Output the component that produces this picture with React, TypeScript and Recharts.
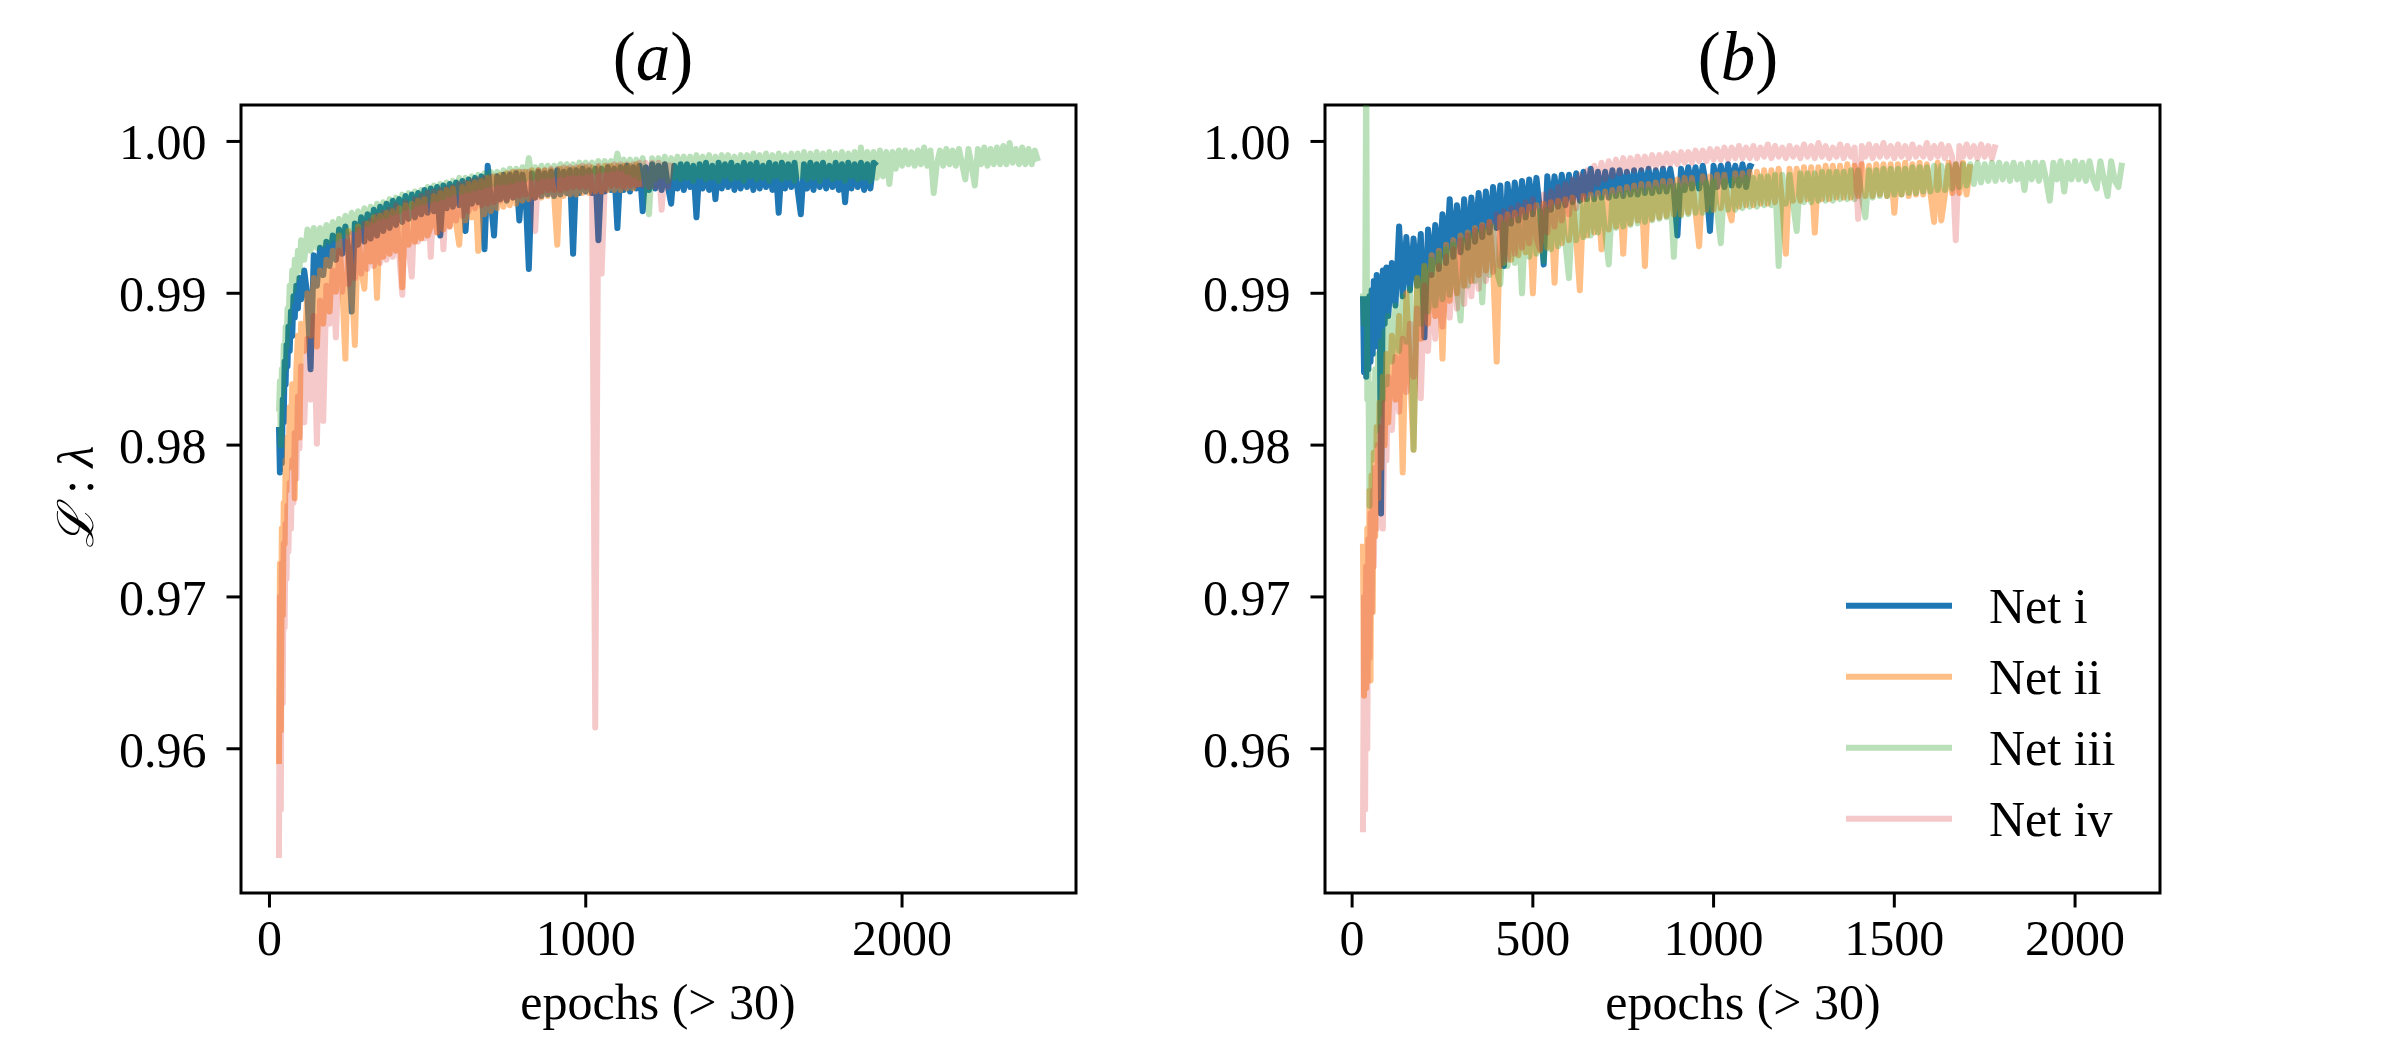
import { Legend, Line, LineChart, ReferenceArea, XAxis, YAxis } from 'recharts';

const FONT = "'Liberation Serif', 'Times New Roman', serif";

// shared y range of both panels
const yDomain: [number, number] = [0.9505, 1.0024];
const yTicks = [0.96, 0.97, 0.98, 0.99, 1.0];

const xDomainLeft: [number, number] = [-90, 2550];
const xTicksLeft = [0, 1000, 2000];
const xDomainRight: [number, number] = [-75, 2235];
const xTicksRight = [0, 500, 1000, 1500, 2000];

const netNames = ['Net i', 'Net ii', 'Net iii', 'Net iv'];
const netColors = ['#1f77b4', '#ff7f0e', '#2ca02c', '#d62728'];
const netOpacity = [1, 0.5, 0.33, 0.25];

// sampled epochs, every series uses the first N of them
const epochs = [
  30, 33, 36, 39, 42, 45, 48, 51, 54, 57, 60, 64, 68, 72, 76, 80, 85, 90, 95, 100,
  110, 120, 130, 140, 150, 160, 170, 180, 190, 200,
  210, 220, 230, 240, 250, 260, 270, 280, 290, 300,
  310, 320, 330, 340, 350, 360, 370, 380, 390, 400,
  410, 420, 430, 440, 450, 460, 470, 480, 490, 500,
  510, 520, 530, 540, 550, 560, 570, 580, 590, 600,
  610, 620, 630, 640, 650, 660, 670, 680, 690, 700,
  710, 720, 730, 740, 750, 760, 770, 780, 790, 800,
  810, 820, 830, 840, 850, 860, 870, 880, 890, 900,
  910, 920, 930, 940, 950, 960, 970, 980, 990, 1000,
  1010, 1020, 1030, 1040, 1050, 1060, 1070, 1080, 1090, 1100,
  1110, 1120, 1130, 1140, 1150, 1160, 1170, 1180, 1190, 1200,
  1210, 1220, 1230, 1240, 1250, 1260, 1270, 1280, 1290, 1300,
  1310, 1320, 1330, 1340, 1350, 1360, 1370, 1380, 1390, 1400,
  1410, 1420, 1430, 1440, 1450, 1460, 1470, 1480, 1490, 1500,
  1510, 1520, 1530, 1540, 1550, 1560, 1570, 1580, 1590, 1600,
  1610, 1620, 1630, 1640, 1650, 1660, 1670, 1680, 1690, 1700,
  1710, 1720, 1730, 1740, 1750, 1760, 1770, 1780, 1790, 1800,
  1810, 1820, 1830, 1840, 1850, 1860, 1870, 1880, 1890, 1900,
  1910, 1920, 1930, 1940, 1950, 1960, 1970, 1980, 1990, 2000,
  2010, 2020, 2030, 2040, 2050, 2060, 2070, 2080, 2090, 2100,
  2110, 2120, 2130, 2140, 2150, 2160, 2170, 2180, 2190, 2200,
  2210, 2220, 2230, 2240, 2250, 2260, 2270, 2280, 2290, 2300,
  2310, 2320, 2330, 2340, 2350, 2360, 2370, 2380, 2390, 2400,
  2410, 2420, 2430,
];

// ---- panel (a) ----
const netIa = [
  .9812, .9782, .9808, .9788, .983, .9815, .9855, .984, .9866, .9852, .9878, .9862, .9888, .9872, .9898, .9884, .9905, .989, .991, .9896,
  .9915, .9898, .985, .9925, .9905, .993, .9912, .9934, .9918, .9938,
  .9922, .9942, .9926, .9944, .9928, .9888, .9946, .9932, .995, .9934,
  .9952, .9936, .9955, .9938, .9957, .9941, .9959, .9943, .9961, .9945,
  .9962, .9947, .9964, .9949, .9965, .995, .9966, .9952, .9968, .9953,
  .9969, .9954, .997, .9938, .9971, .9956, .9972, .9957, .9973, .9958,
  .9974, .9941, .9975, .9959, .9976, .996, .9977, .9929, .9984, .9961,
  .9938, .9977, .9962, .9978, .9961, .9978, .9963, .9979, .9948, .9978,
  .9964, .9916, .9979, .9963, .998, .9964, .9979, .9965, .998, .9964,
  .9981, .9965, .998, .9966, .9981, .9926, .9981, .9966, .9982, .9967,
  .9981, .9966, .9982, .9935, .9982, .9967, .9983, .9968, .9982, .9943,
  .9983, .9968, .9984, .9967, .9983, .9969, .9984, .9954, .9983, .9968,
  .9985, .9969, .9984, .9968, .9985, .997, .9959, .9984, .9969, .9985,
  .9968, .9985, .997, .9984, .995, .9985, .9969, .9986, .9968, .9984,
  .9962, .9986, .9969, .9985, .997, .9986, .9968, .9984, .9969, .9986,
  .997, .9985, .9968, .9986, .9969, .9984, .997, .9986, .9968, .9985,
  .9953, .9986, .9969, .9985, .997, .9986, .9968, .9952, .9985, .9969,
  .9986, .9968, .9985, .997, .9986, .9969, .9984, .997, .9986, .9968,
  .9985, .996, .9986, .9969, .9985, .997, .9986, .9968, .9985, .9969,
  .9986, .9984,
];

const netIIa = [
  .959, .9722, .9612, .9745, .9688, .9762, .9735, .979, .977, .9805, .9785, .9825, .98, .984, .9815, .9765, .985, .9872, .9805, .988,
  .9862, .99, .9872, .991, .9865, .9915, .988, .9922, .9888, .9928,
  .9901, .9938, .9906, .9857, .9941, .9911, .9866, .9944, .9916, .9903,
  .9946, .9921, .995, .9897, .9951, .9924, .9953, .9926, .9954, .9928,
  .9956, .9904, .9958, .9932, .9959, .9934, .9961, .9936, .9962, .9938,
  .9944, .9964, .994, .9966, .9942, .9968, .9944, .9969, .9946, .9932,
  .997, .9948, .9972, .995, .9973, .9928, .9974, .9952, .9976, .9954,
  .9977, .9956, .9978, .9957, .9979, .9958, .998, .9959, .998, .9961,
  .998, .9962, .9981, .9963, .9981, .9963, .9981, .9964, .9981, .9964,
  .9932, .9982, .9964, .9982, .9965, .9982, .9965, .9983, .9966, .9983,
  .9966, .9983, .9967, .9983, .9967, .9984, .9968, .9984, .9968, .9984,
  .9968, .9984, .9969, .9984, .9969, .9985, .997,
];

const netIIIa = [
  .9822, .9842, .98, .985, .9835, .9866, .985, .9878, .9865, .989, .988, .9905, .9895, .9915, .9902, .9922, .991, .9928, .9915, .9935,
  .9922, .9942, .9928, .9943, .993, .9943, .9932, .9945, .9934, .9947,
  .9936, .9949, .9938, .9951, .994, .9953, .9942, .9954, .9944, .9956,
  .9946, .9957, .9948, .9959, .995, .996, .9951, .9962, .9953, .9963,
  .9954, .9965, .9956, .9966, .9957, .9967, .9959, .9968, .996, .997,
  .9961, .9971, .9962, .9972, .9963, .9973, .9965, .9974, .9966, .9976,
  .9967, .9976, .9968, .9977, .9969, .9978, .997, .9979, .9971, .998,
  .9972, .998, .9973, .9981, .9973, .9982, .9974, .9982, .9975, .9983,
  .9975, .9989, .9976, .9983, .9976, .9984, .9977, .9984, .9977, .9984,
  .9978, .9985, .9978, .9985, .9979, .9985, .9979, .9986, .9979, .9986,
  .998, .9986, .998, .9987, .9981, .9987, .9981, .9987, .9982, .9992,
  .9982, .9988, .998, .9988, .9978, .9988, .9976, .9989, .9975, .9952,
  .9989, .9975, .9989, .9977, .999, .9974, .9989, .9976, .999, .9975,
  .999, .9976, .999, .9974, .9991, .9977, .999, .9975, .9991, .9976,
  .999, .9974, .9991, .9977, .9991, .9975, .999, .9976, .9991, .9974,
  .9991, .9977, .9992, .9975, .9991, .9976, .9992, .9974, .9991, .9977,
  .9992, .9975, .9991, .9976, .9992, .9974, .9992, .9977, .9993, .9975,
  .9992, .9976, .9993, .9974, .9992, .9977, .9993, .9975, .9992, .9976,
  .9993, .9974, .9992, .9977, .9993, .9975, .9996, .9976, .9993, .9974,
  .9993, .9976, .9994, .9977, .9993, .9972, .9993, .9982, .9994, .9984,
  .9994, .9985, .9993, .9984, .9994, .9985, .9996, .9984, .9994, .9966,
  .9985, .9994, .9984, .9995, .9985, .9994, .9984, .9995, .9985, .9975,
  .9995, .9984, .9971, .9995, .9985, .9996, .9984, .9995, .9985, .9996,
  .9985, .9997, .9985, .9999, .9986, .9995, .9985, .9996, .9985, .9995,
  .9985, .9994, .9987,
];

const netIVa = [
  .9528, .97, .956, .9722, .963, .9735, .968, .9748, .9712, .976, .973, .9775, .9745, .979, .9762, .9808, .9778, .9832, .9798, .9852,
  .9815, .987, .983, .9885, .9801, .9895, .9816, .9905, .988, .9915,
  .9871, .9928, .9901, .9934, .9906, .9939, .991, .9942, .9913, .9946,
  .9916, .9948, .9918, .9951, .992, .9953, .9922, .9955, .9924, .9958,
  .9926, .9899, .996, .993, .9911, .9962, .9934, .9964, .9936, .9966,
  .9924, .9967, .994, .9968, .9929, .9969, .9944, .997, .9948, .9972,
  .9951, .9973, .9954, .9974, .9956, .9975, .9958, .9976, .9959, .9977,
  .996, .9977, .9961, .9978, .9962, .9979, .9963, .998, .9964, .998,
  .9965, .998, .9966, .9941, .9981, .9967, .9981, .9968, .9982, .9968,
  .9982, .9968, .9983, .9969, .9983, .997, .9983, .997, .9984, .997,
  .9984, .997, .9614, .9984, .9913, .997, .9984, .9971, .9985, .9971,
  .9985, .997, .9985, .9971, .9985, .9971, .9986, .9971, .9986, .997,
  .9986, .997, .9986, .9955, .9985, .997, .9986,
];

// ---- panel (b) ----
const netIb = [
  .9898, .9848, .9896, .9845, .9893, .985, .9898, .9855, .9902, .986, .9908, .9865, .9912, .987, .991, .9755, .9915, .988, .9917, .9885,
  .992, .9892, .9944, .9898, .9937, .9902, .9936, .9905, .9939, .9871,
  .9942, .9912, .9945, .9916, .9952, .992, .9962, .9924, .9958, .9927,
  .9962, .993, .9963, .9934, .9966, .9937, .9967, .994, .997, .9943,
  .9971, .9918, .9972, .9946, .9973, .9948, .9974, .995, .9975, .9952,
  .9976, .9954, .9919, .9977, .9955, .9977, .9957, .9978, .9958, .9978,
  .996, .9979, .9961, .998, .9962, .9982, .9962, .998, .9963, .998,
  .9963, .9981, .9964, .9981, .9964, .998, .9965, .9981, .9965, .9981,
  .9966, .9982, .9966, .9981, .9967, .9982, .9967, .9982, .9968, .9938,
  .9982, .9968, .9983, .9969, .9983, .9969, .9984, .997, .9941, .9984,
  .997, .9984, .997, .9985, .9971, .9984, .9971, .9985, .997, .9984,
  .9983,
];

const netIIb = [
  .9735, .9635, .97, .964, .9745, .966, .977, .9645, .978, .969, .9795, .974, .9812, .9765, .9828, .9785, .9845, .98, .986, .9815,
  .9872, .983, .9885, .9782, .99, .985, .9797, .991, .987, .9918,
  .988, .9925, .9885, .9928, .9857, .9932, .9895, .9935, .99, .9938,
  .9905, .994, .9908, .9943, .9912, .9945, .9915, .9947, .9918, .9855,
  .995, .992, .9952, .9922, .9953, .9925, .9955, .9927, .9957, .99,
  .9958, .9928, .9959, .993, .996, .9907, .9961, .9933, .9962, .9935,
  .9963, .9936, .9902, .9964, .9938, .9965, .994, .9966, .9929, .9967,
  .9942, .9968, .9944, .9969, .9926, .997, .9946, .9971, .9948, .9972,
  .9918, .9972, .9949, .9973, .995, .9974, .9951, .9974, .9952, .9975,
  .9952, .9976, .9953, .9976, .9954, .9931, .9977, .9955, .9977, .9955,
  .9978, .9956, .9978, .9957, .9948, .9979, .9957, .9979, .9958, .998,
  .9958, .998, .9959, .9981, .9959, .9981, .996, .9982, .996, .9926,
  .9982, .9961, .9982, .9961, .9983, .9962, .9983, .994, .9983, .9962,
  .9984, .9962, .9984, .9963, .9984, .9963, .9985, .9963, .9984, .9964,
  .9985, .9964, .9984, .9964, .9985, .9965, .9985, .9964, .9985, .9953,
  .9985, .9965, .9986, .9964, .9985, .9965, .9986, .9965, .9985, .9966,
  .9947, .9986, .9948, .9965, .9986, .9966, .9985, .9966, .9986, .9965,
  .9985,
];

const netIIIb = [
  .99, .988, .9885, 1.006, .983, .985, .976, .983, .979, .984, .98, .985, .981, .986, .982, .9868, .983, .9875, .984, .9885,
  .9855, .9892, .9862, .9898, .9868, .9903, .9797, .991, .988, .9918,
  .9888, .9922, .9892, .9926, .9896, .9929, .9899, .9932, .9902, .9882,
  .9935, .9905, .9938, .9908, .994, .9894, .9942, .9912, .9944, .9915,
  .9906, .9946, .9918, .9948, .992, .9949, .99, .9951, .9924, .9953,
  .9926, .9954, .9921, .9955, .9929, .9957, .9931, .9958, .9933, .991,
  .9959, .9935, .996, .9937, .9961, .9938, .9962, .994, .9963, .9941,
  .9919, .9964, .9943, .9965, .9944, .9966, .9945, .9967, .9946, .9968,
  .9947, .9968, .9948, .9969, .9949, .997, .995, .997, .9924, .9971,
  .9951, .9971, .9952, .9972, .9953, .9972, .9953, .9973, .9954, .9974,
  .9954, .9933, .9974, .9955, .9975, .9955, .9975, .9956, .9976, .9957,
  .9976, .9957, .9977, .9958, .9977, .9958, .9978, .9918, .9978, .9959,
  .9978, .9959, .9941, .9979, .996, .9979, .996, .9979, .9961, .998,
  .9961, .998, .9961, .998, .9962, .998, .9962, .9981, .9962, .9981,
  .9963, .995, .9981, .9963, .9981, .9964, .9982, .9964, .9982, .9965,
  .9982, .9965, .9982, .9966, .9983, .9966, .9983, .9967, .9983, .9967,
  .9984, .9968, .9984, .9968, .9984, .9969, .9985, .997, .9985, .9971,
  .9985, .9972, .9986, .9973, .9985, .9974, .9986, .9974, .9986, .9975,
  .9985, .9974, .9986, .9975, .9985, .9968, .9986, .9975, .9986, .9974,
  .9986, .9975, .9961, .9986, .9975, .9987, .9967, .9986, .9975, .9987,
  .9975, .9986, .9974, .9987, .9975, .9969, .9987, .9975, .9964, .9987,
  .9974, .997, .9986,
];

const netIVb = [
  .9545, .97, .956, .972, .96, .9738, .966, .9755, .969, .977, .972, .9785, .9745, .98, .976, .9812, .9745, .9828, .979, .9845,
  .981, .9858, .9822, .987, .9835, .988, .9845, .989, .9831, .9905,
  .9862, .9912, .987, .9918, .9878, .9924, .9884, .9929, .989, .9935,
  .9893, .9938, .9898, .9941, .9903, .9944, .9908, .9947, .9914, .9952,
  .9918, .9954, .9922, .9956, .9926, .9958, .993, .996, .9933, .9962,
  .9936, .9929, .9965, .994, .9967, .9944, .997, .9948, .9972, .9952,
  .9975, .9956, .9978, .9962, .9981, .9968, .9984, .9972, .9986, .9975,
  .9987, .9977, .9988, .9979, .9989, .998, .9989, .9981, .999, .9982,
  .999, .9983, .9991, .9983, .9991, .9984, .9992, .9985, .9992, .9985,
  .9993, .9986, .9993, .9986, .9994, .9987, .9994, .9987, .9995, .9988,
  .9995, .9988, .9996, .9988, .9996, .9989, .9997, .9989, .9996, .9989,
  .9997, .9989, .9996, .999, .9998, .9989, .9997, .999, .9996, .9989,
  .9997, .999, .9996, .9989, .9998, .999, .9997, .9989, .9999, .999,
  .9997, .9989, .9996, .999, .9998, .9989, .9997, .999, .9996, .9949,
  .9997, .999, .9998, .9989, .9997, .999, .9999, .999, .9997, .9989,
  .9998, .999, .9997, .9989, .9998, .999, .9996, .999, .9999, .9989,
  .9997, .999, .9998, .9989, .9997, .999, .9935, .9997, .999, .9998,
  .999, .9997, .9989, .9998, .999, .9997, .9989, .9998,
];

type Point = { e: number; v: number };

const toPoints = (values: number[]): Point[] => values.map((v, i) => ({ e: epochs[i], v }));

const panelA = [netIa, netIIa, netIIIa, netIVa].map(toPoints);
const panelB = [netIb, netIIb, netIIIb, netIVb].map(toPoints);

function LegendBox() {
  return (
    <svg width={330} height={280} style={{ overflow: 'visible' }}>
      {netNames.map((name, i) => {
        const y = 35.7 + i * 71;
        return (
          <g key={name}>
            <line
              x1={6}
              x2={112}
              y1={y}
              y2={y}
              stroke={netColors[i]}
              strokeOpacity={netOpacity[i]}
              strokeWidth={6}
            />
            <text x={149} y={y + 17.6} fontSize={50} fontFamily={FONT} fill="#000">
              {name}
            </text>
          </g>
        );
      })}
    </svg>
  );
}

type PanelProps = {
  left: number;
  yAxisWidth: number;
  rightMargin: number;
  xDomain: [number, number];
  xTicks: number[];
  series: Point[][];
  legend?: boolean;
};

function Panel({ left, yAxisWidth, rightMargin, xDomain, xTicks, series, legend }: PanelProps) {
  const tickStyle = { fill: '#000', fontSize: 50, fontFamily: FONT };
  return (
    <div style={{ position: 'absolute', left, top: 0 }}>
      <LineChart width={1200} height={1050} margin={{ top: 105, right: rightMargin, bottom: 0, left: 0 }}>
        <XAxis
          type="number"
          dataKey="e"
          domain={xDomain}
          ticks={xTicks}
          interval={0}
          allowDataOverflow
          height={157}
          axisLine={false}
          tickSize={14.5}
          tickMargin={12}
          tickLine={{ stroke: '#000', strokeWidth: 3 }}
          tick={tickStyle}
        />
        <YAxis
          type="number"
          domain={yDomain}
          ticks={yTicks}
          interval={0}
          allowDataOverflow
          width={yAxisWidth}
          axisLine={false}
          tickSize={14.5}
          tickMargin={20}
          tickLine={{ stroke: '#000', strokeWidth: 3 }}
          tick={tickStyle}
          tickFormatter={(v: number) => v.toFixed(2)}
        />
        {series.map((data, i) => (
          <Line
            key={netNames[i]}
            name={netNames[i]}
            data={data}
            dataKey="v"
            type="linear"
            stroke={netColors[i]}
            strokeOpacity={netOpacity[i]}
            strokeWidth={6}
            strokeLinejoin="round"
            dot={false}
            activeDot={false}
            isAnimationActive={false}
          />
        ))}
        <ReferenceArea
          x1={xDomain[0]}
          x2={xDomain[1]}
          y1={yDomain[0]}
          y2={yDomain[1]}
          fill="none"
          stroke="#000"
          strokeWidth={3}
          ifOverflow="visible"
        />
        {legend && (
          <Legend
            layout="vertical"
            align="center"
            verticalAlign="middle"
            content={() => <LegendBox />}
            wrapperStyle={{ left: 640, top: 570, width: 330, height: 280 }}
          />
        )}
      </LineChart>
    </div>
  );
}

export default function App() {
  return (
    <div
      style={{
        position: 'absolute',
        left: 0,
        top: 0,
        width: 2400,
        height: 1050,
        background: '#fff',
        overflow: 'hidden',
      }}
    >
      <Panel left={0} yAxisWidth={241} rightMargin={124} xDomain={xDomainLeft} xTicks={xTicksLeft} series={panelA} />
      <Panel
        left={1200}
        yAxisWidth={125}
        rightMargin={240}
        xDomain={xDomainRight}
        xTicks={xTicksRight}
        series={panelB}
        legend
      />
      {/* titles and axis labels */}
      <svg
        width={2400}
        height={1050}
        style={{ position: 'absolute', left: 0, top: 0, pointerEvents: 'none' }}
        fontFamily={FONT}
      >
        <text x={653} y={80} fontSize={69} textAnchor="middle">
          (<tspan fontStyle="italic">a</tspan>)
        </text>
        <text x={1738} y={80} fontSize={69} textAnchor="middle">
          (<tspan fontStyle="italic">b</tspan>)
        </text>
        <text x={658} y={1019} fontSize={50} textAnchor="middle">
          epochs (&gt; 30)
        </text>
        <text x={1743} y={1019} fontSize={50} textAnchor="middle">
          epochs (&gt; 30)
        </text>
        <text transform="translate(93,497) rotate(-90)" fontSize={50} textAnchor="middle">
          <tspan fontFamily="'DejaVu Serif', serif" fontStyle="italic">ℒ</tspan>
          {' : '}
          <tspan fontStyle="italic">λ</tspan>
        </text>
      </svg>
    </div>
  );
}
